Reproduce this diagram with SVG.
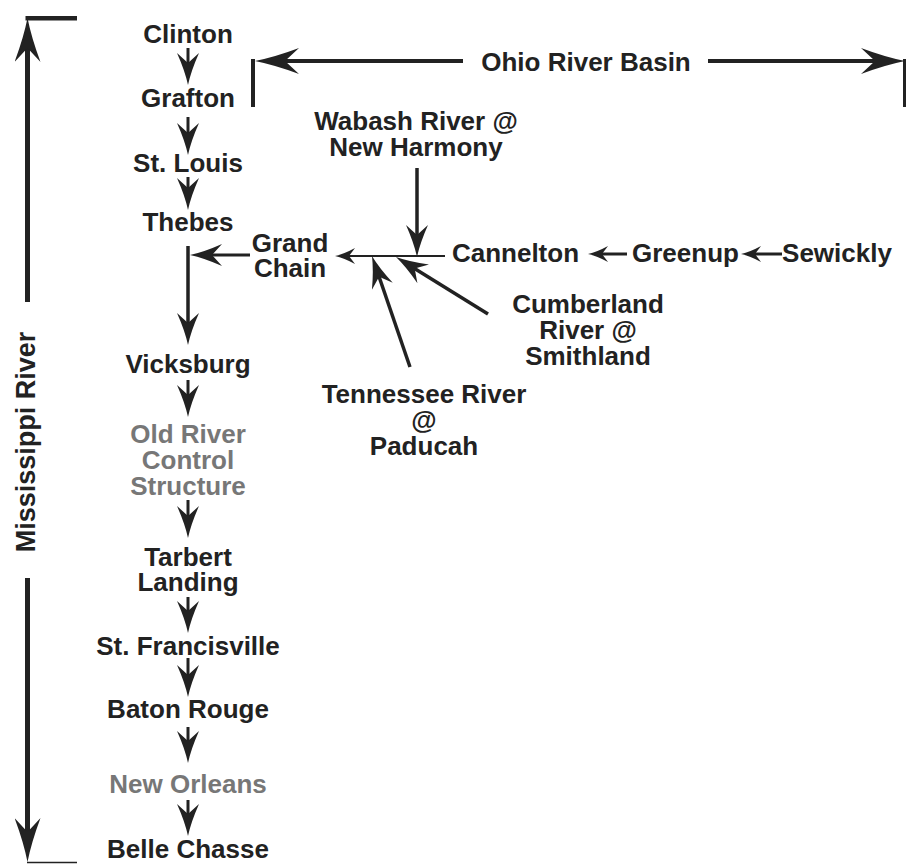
<svg xmlns="http://www.w3.org/2000/svg" width="907" height="864" viewBox="0 0 907 864">
  <style>
    text { font-family: "Liberation Sans", Arial, sans-serif; font-weight: bold; font-size: 26px; fill: #222; text-anchor: middle; }
    .gray { fill: #777; }
    .ln { stroke: #222; fill: none; stroke-linecap: butt; }
  </style>
  <defs>
    <marker id="aBig" viewBox="-44 -13 44 26" markerWidth="44" markerHeight="26" refX="-26" refY="0" orient="auto" markerUnits="userSpaceOnUse">
      <path d="M0,0 Q-20,-4 -44,-13 L-30,0 L-44,13 Q-20,4 0,0 Z" fill="#222"/>
    </marker>
    <marker id="aMed" viewBox="-32 -11 32 22" markerWidth="32" markerHeight="22" refX="-18" refY="0" orient="auto" markerUnits="userSpaceOnUse">
      <path d="M0,0 Q-14,-3 -32,-11 L-22,0 L-32,11 Q-14,3 0,0 Z" fill="#222"/>
    </marker>
    <marker id="aSm" viewBox="-20 -8 20 16" markerWidth="20" markerHeight="16" refX="-11" refY="0" orient="auto" markerUnits="userSpaceOnUse">
      <path d="M0,0 Q-9,-2 -20,-8 L-14,0 L-20,8 Q-9,2 0,0 Z" fill="#222"/>
    </marker>
  </defs>

  <g id="connectors">
    <!-- Mississippi axis -->
    <line class="ln" x1="27.5" y1="302" x2="27.5" y2="44" stroke-width="5" marker-end="url(#aBig)"/>
    <line class="ln" x1="25.5" y1="18.3" x2="77" y2="18.3" stroke-width="4.5"/>
    <line class="ln" x1="27.5" y1="578" x2="27.5" y2="836" stroke-width="5" marker-end="url(#aBig)"/>
    <line class="ln" x1="27" y1="862.5" x2="77" y2="862.5" stroke-width="1.5"/>
    <!-- Ohio River Basin bracket -->
    <line class="ln" x1="253" y1="59" x2="253" y2="107" stroke-width="4"/>
    <line class="ln" x1="463" y1="61" x2="281" y2="61" stroke-width="4" marker-end="url(#aBig)"/>
    <line class="ln" x1="708" y1="61" x2="879" y2="61" stroke-width="4" marker-end="url(#aBig)"/>
    <line class="ln" x1="904.5" y1="59" x2="904.5" y2="107" stroke-width="3"/>
    <!-- Main column -->
    <line class="ln" x1="188" y1="48" x2="188" y2="67" stroke-width="3" marker-end="url(#aMed)"/>
    <line class="ln" x1="188" y1="117" x2="188" y2="137" stroke-width="3" marker-end="url(#aMed)"/>
    <line class="ln" x1="188" y1="177" x2="188" y2="192" stroke-width="3" marker-end="url(#aMed)"/>
    <line class="ln" x1="188" y1="246" x2="188" y2="327" stroke-width="3.5" marker-end="url(#aMed)"/>
    <line class="ln" x1="250" y1="255" x2="208" y2="255" stroke-width="3" marker-end="url(#aMed)"/>
    <line class="ln" x1="188" y1="380" x2="188" y2="399" stroke-width="3" marker-end="url(#aMed)"/>
    <line class="ln" x1="188" y1="500" x2="188" y2="520" stroke-width="3" marker-end="url(#aMed)"/>
    <line class="ln" x1="188" y1="597" x2="188" y2="615" stroke-width="3" marker-end="url(#aMed)"/>
    <line class="ln" x1="188" y1="658" x2="188" y2="679" stroke-width="3" marker-end="url(#aMed)"/>
    <line class="ln" x1="188" y1="727" x2="188" y2="745" stroke-width="3" marker-end="url(#aMed)"/>
    <line class="ln" x1="188" y1="800" x2="188" y2="818" stroke-width="3" marker-end="url(#aMed)"/>
    <!-- Ohio tributaries -->
    <line class="ln" x1="417" y1="168" x2="417" y2="239" stroke-width="3.5" marker-end="url(#aMed)"/>
    <line class="ln" x1="445" y1="256" x2="346" y2="256" stroke-width="2" marker-end="url(#aSm)"/>
    <line class="ln" x1="410" y1="367" x2="377.8" y2="273" stroke-width="3.5" marker-end="url(#aMed)"/>
    <line class="ln" x1="488" y1="314" x2="411.3" y2="266.5" stroke-width="3.5" marker-end="url(#aMed)"/>
    <line class="ln" x1="627" y1="254" x2="599" y2="254" stroke-width="3" marker-end="url(#aSm)"/>
    <line class="ln" x1="782" y1="254" x2="752" y2="254" stroke-width="3" marker-end="url(#aSm)"/>
  </g>

  <g id="label-mississippi"><text transform="translate(35,442) rotate(-90)" style="font-size:27px">Mississippi River</text></g>
  <g id="label-ohio"><text x="586" y="71">Ohio River Basin</text></g>

  <g id="clinton"><text x="188" y="43">Clinton</text></g>
  <g id="grafton"><text x="188" y="107">Grafton</text></g>
  <g id="st-louis"><text x="188" y="172">St. Louis</text></g>
  <g id="thebes"><text x="188" y="231">Thebes</text></g>
  <g id="grand-chain"><text x="290" y="252">Grand</text><text x="290" y="277">Chain</text></g>
  <g id="vicksburg"><text x="188" y="373">Vicksburg</text></g>
  <g id="old-river"><text class="gray" x="188" y="443">Old River</text><text class="gray" x="188" y="469">Control</text><text class="gray" x="188" y="495">Structure</text></g>
  <g id="tarbert"><text x="188" y="566">Tarbert</text><text x="188" y="591">Landing</text></g>
  <g id="st-francisville"><text x="188" y="655">St. Francisville</text></g>
  <g id="baton-rouge"><text x="188" y="718">Baton Rouge</text></g>
  <g id="new-orleans"><text class="gray" x="188" y="793">New Orleans</text></g>
  <g id="belle-chasse"><text x="188" y="858">Belle Chasse</text></g>

  <g id="wabash"><text x="416" y="130">Wabash River @</text><text x="416" y="156">New Harmony</text></g>
  <g id="cannelton"><text x="515.5" y="262">Cannelton</text></g>
  <g id="greenup"><text x="685.5" y="262">Greenup</text></g>
  <g id="sewickly"><text x="837" y="262">Sewickly</text></g>
  <g id="cumberland"><text x="588" y="313">Cumberland</text><text x="588" y="339">River @</text><text x="588" y="365">Smithland</text></g>
  <g id="tennessee"><text x="424" y="403">Tennessee River</text><text x="424" y="429">@</text><text x="424" y="455">Paducah</text></g>
</svg>
